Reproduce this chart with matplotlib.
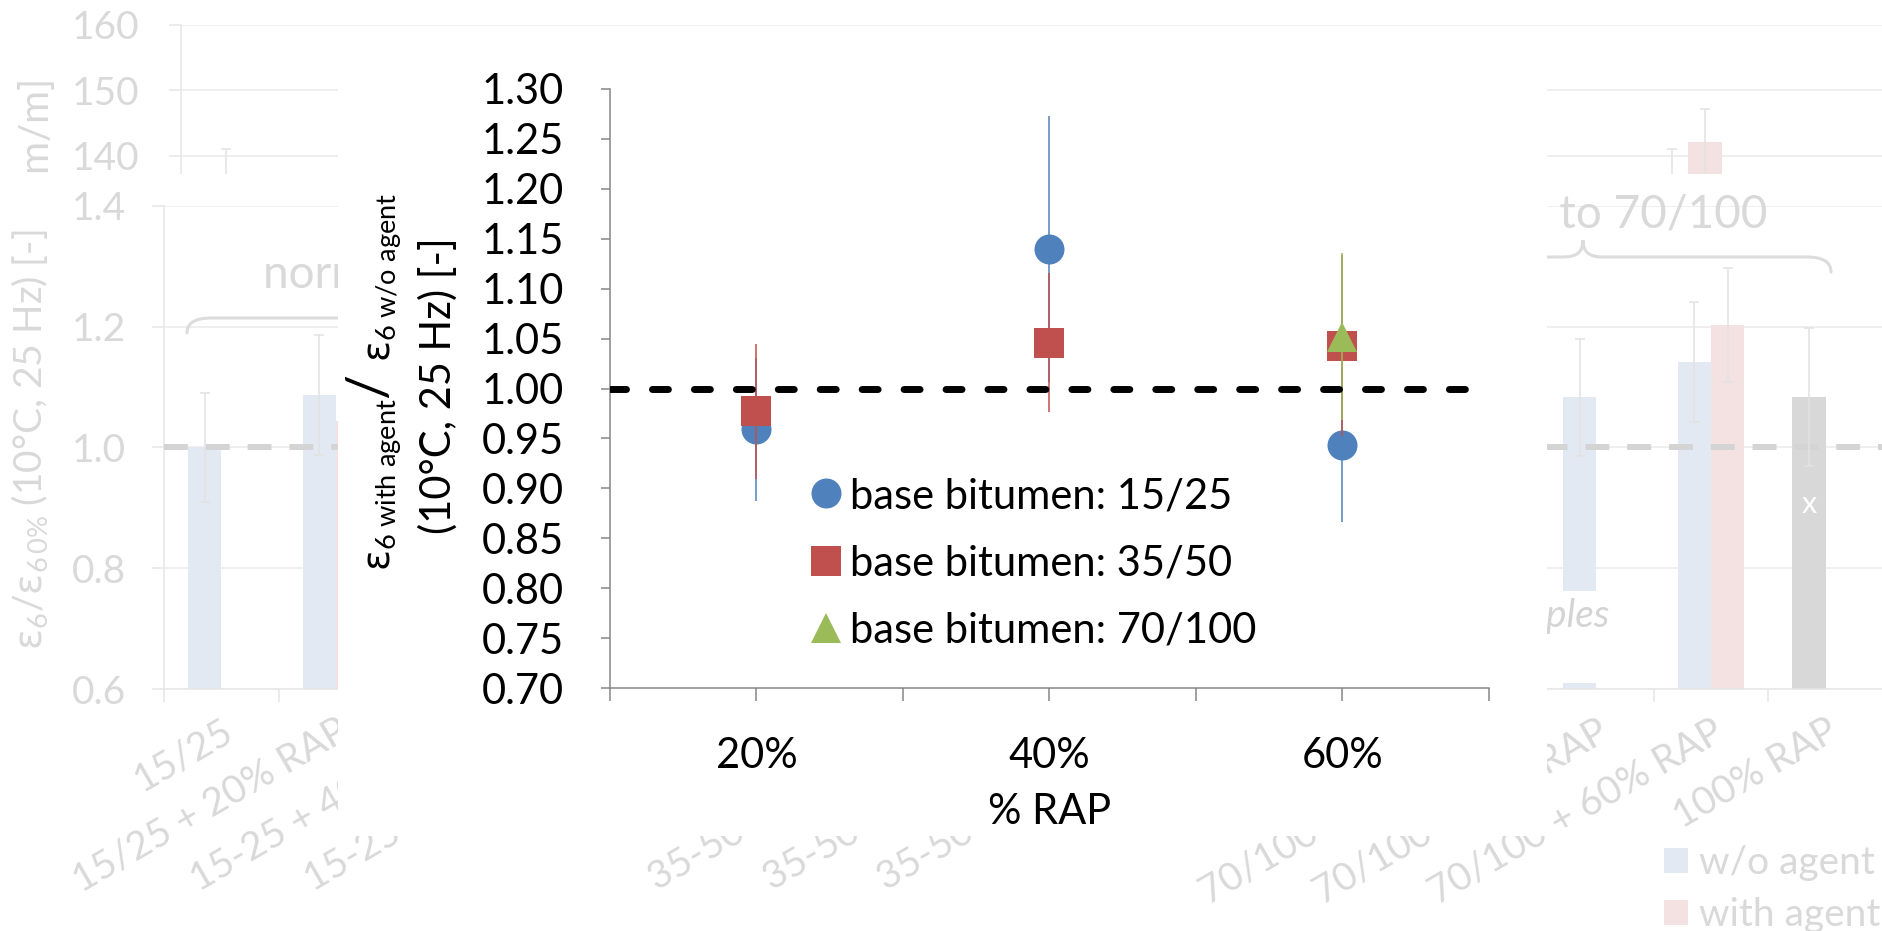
import numpy as np
import matplotlib
matplotlib.use("Agg")
import matplotlib.pyplot as plt
from matplotlib.lines import Line2D
from matplotlib.patches import Rectangle, PathPatch, Patch
from matplotlib.path import Path

# canvas size in pixels (dpi 100)
W, H = 1883, 931

plt.rcParams['font.family'] = ['Lato', 'DejaVu Sans']
plt.rcParams['mathtext.fontset'] = 'custom'
plt.rcParams['mathtext.rm'] = 'Lato'
plt.rcParams['mathtext.it'] = 'Lato:italic'
plt.rcParams['mathtext.sf'] = 'DejaVu Sans'

# ---------------------------------------------------------------------------
# inset: ratio with/without agent
# ---------------------------------------------------------------------------
rap_pct = [20, 40, 60]
ratio_1525 = [0.959, 1.140, 0.943]
err_1525 = [0.072, 0.133, 0.077]
ratio_3550 = [0.977, 1.046, 1.043]
err_3550 = [0.068, 0.070, 0.091]
rap_70100 = [60]
ratio_70100 = [1.052]
err_70100 = [0.084]
series_names = ["base bitumen: 15/25", "base bitumen: 35/50", "base bitumen: 70/100"]

# ---------------------------------------------------------------------------
# background chart (normalised strain, faded)
# ---------------------------------------------------------------------------
bg_labels = ["15/25", "15/25 + 20% RAP", "15-25 + 40% RAP", "15-25 + 60% RAP", "100% RAP",
             "35/50", "35-50 + 20% RAP", "35-50 + 40% RAP", "35-50 + 60% RAP", "100% RAP",
             "70/100", "70/100 + 20% RAP", "70/100 + 40% RAP", "70/100 + 60% RAP", "100% RAP"]
# index -> (value, error)
bg_wo = {0: (1.000, 0.090), 1: (1.087, 0.100), 12: (1.083, 0.097), 13: (1.142, 0.099)}
bg_with = {1: (1.044, 0.090), 13: (1.203, 0.094)}
bg_rap100 = {14: (1.084, 0.114)}
# upper part of the background chart, strain in µm/m
top_wo = {0: (134.0, 7.0), 13: (134.5, 6.5)}
top_with = {13: (142.1, 5.0)}

C_BLUE, C_RED, C_GREEN = '#4F81BD', '#C0504D', '#9BBB59'
BG_TXT = '#d9d9d9'
BG_GRID = '#eeeeee'
BG_BLUE, BG_PINK, BG_GRAY = '#e2e9f3', '#f4e2e2', '#d8d8d8'
BG_ERR = '#e2e2e2'


def fx(px):
    return px / W


def fy(py):
    return 1 - py / H


def box(x0, y0, x1, y1):
    return [fx(x0), fy(y1), (x1 - x0) / W, (y1 - y0) / H]


def brace(ax, xl, xr, xt, y, h_end, h_tip, r_end, r_tip, color):
    # curly brace in pixel coordinates, tip pointing up
    pts = [(xl, y + h_end), (xl, y), (xl + r_end, y),
           (xt - r_tip, y),
           (xt - 0.3 * r_tip, y), (xt, y - 0.3 * h_tip), (xt, y - h_tip),
           (xt, y - 0.3 * h_tip), (xt + 0.3 * r_tip, y), (xt + r_tip, y),
           (xr - r_end, y),
           (xr, y), (xr, y + h_end)]
    codes = [Path.MOVETO, Path.CURVE3, Path.CURVE3,
             Path.LINETO,
             Path.CURVE4, Path.CURVE4, Path.CURVE4,
             Path.CURVE4, Path.CURVE4, Path.CURVE4,
             Path.LINETO,
             Path.CURVE3, Path.CURVE3]
    verts = [(fx(a), fy(b)) for a, b in pts]
    ax.add_patch(PathPatch(Path(verts, codes), transform=ax.figure.transFigure,
                           fill=False, ec=color, lw=2.2, capstyle='round', zorder=2.5))


fig = plt.figure(figsize=(W / 100, H / 100), dpi=100)

# ---- upper background axes (µm/m) ----
ax_top = fig.add_axes(box(181, 25, 1883, 174), zorder=1)
ax_top.set_xlim(-0.558, 14.75)
ax_top.set_ylim(137.2, 160)
ax_top.set_yticks([140, 150, 160])
ax_top.set_xticks([])
for s in ['top', 'right', 'bottom']:
    ax_top.spines[s].set_visible(False)
ax_top.spines['left'].set_color('#e6e6e6')
ax_top.spines['left'].set_linewidth(1.1)
ax_top.tick_params(axis='y', length=8.6, width=1.1, color='#e6e6e6', labelcolor=BG_TXT,
                   labelsize=28, pad=21)
ax_top.grid(axis='y', color=BG_GRID, lw=1.3)
ax_top.set_axisbelow(True)
for d, dx, col in [(top_wo, -0.15, BG_BLUE), (top_with, 0.15, BG_PINK)]:
    idx = np.array(list(d.keys()))
    val = np.array([v[0] for v in d.values()])
    err = np.array([v[1] for v in d.values()])
    ax_top.bar(idx + dx, val, width=0.3, color=col, zorder=2)
    ax_top.errorbar(idx + dx, val, yerr=err, fmt='none', ecolor=BG_ERR, elinewidth=1.1,
                    capsize=3.6, capthick=1.1, zorder=3)
ax_top.text(fx(37), fy(80), r"$\mathsf{\varepsilon}_{\mathrm{6}}$ [µm/m]", transform=fig.transFigure,
            rotation=90, ha='center', va='top', color=BG_TXT, fontsize=29)

# white panel of the lower chart hides the rest of the upper one
fig.add_artist(Rectangle((0, 0), 1, fy(174), transform=fig.transFigure,
                         fc='white', ec='none', zorder=2))

# ---- lower background axes (normalised) ----
ax_bot = fig.add_axes(box(164, 206, 1883, 689), zorder=3)
ax_bot.set_xlim(-0.5, 14.5)
ax_bot.set_ylim(0.6, 1.4)
ax_bot.set_yticks([0.6, 0.8, 1.0, 1.2, 1.4])
ax_bot.set_yticklabels([f"{v:.1f}" for v in [0.6, 0.8, 1.0, 1.2, 1.4]])
ax_bot.set_xticks(np.arange(len(bg_labels)))
ax_bot.set_xticklabels(bg_labels)
ax_bot.set_xticks(np.arange(-0.5, 15, 1.0), minor=True)
for s in ['top', 'right']:
    ax_bot.spines[s].set_visible(False)
for s in ['left', 'bottom']:
    ax_bot.spines[s].set_color('#e6e6e6')
    ax_bot.spines[s].set_linewidth(1.1)
ax_bot.tick_params(axis='y', length=8.6, width=1.1, color='#e6e6e6', labelcolor=BG_TXT,
                   labelsize=28, pad=19)
ax_bot.tick_params(axis='x', which='major', length=0, labelcolor=BG_TXT, labelsize=28, pad=17)
ax_bot.tick_params(axis='x', which='minor', length=9.4, width=1.1, color='#e6e6e6')
for lab in ax_bot.get_xticklabels():
    lab.set_rotation(30)
    lab.set_ha('right')
    lab.set_rotation_mode('anchor')
ax_bot.grid(axis='y', color=BG_GRID, lw=1.3)
ax_bot.set_axisbelow(True)

for d, dx, col in [(bg_wo, -0.145, BG_BLUE), (bg_with, 0.145, BG_PINK), (bg_rap100, -0.145, BG_GRAY)]:
    idx = np.array(list(d.keys()))
    val = np.array([v[0] for v in d.values()])
    err = np.array([v[1] for v in d.values()])
    ax_bot.bar(idx + dx, val, width=0.29, color=col, zorder=2)
    ax_bot.errorbar(idx + dx, val, yerr=err, fmt='none', ecolor=BG_ERR, elinewidth=1.1,
                    capsize=3.6, capthick=1.1, zorder=3.5)
ax_bot.axhline(1.0, color='#d4d4d4', lw=4.3, ls=(0, (4.0, 3.0)), zorder=3)
ax_bot.text(14 - 0.145, 0.907, "x", color='white', fontsize=22, ha='center', va='center', zorder=4)

ax_bot.text(fx(30), fy(440), r"$\mathsf{\varepsilon}_{\mathrm{6}}/\mathsf{\varepsilon}_{\mathrm{6\,0\%}}$ (10°C, 25 Hz) [-]",
            transform=fig.transFigure, rotation=90, ha='center', va='center', color=BG_TXT, fontsize=28)

brace(ax_bot, 187, 713, 450, 318, 15, 17, 24, 20, '#dcdcdc')
brace(ax_bot, 1335, 1831, 1583, 257, 15, 17, 24, 20, '#dcdcdc')
ax_bot.text(fx(263), fy(287), "normalized to 15/25", transform=fig.transFigure,
            ha='left', va='baseline', color=BG_TXT, fontsize=33)
ax_bot.text(fx(1768), fy(227), "normalized to 70/100", transform=fig.transFigure,
            ha='right', va='baseline', color=BG_TXT, fontsize=33)

ax_bot.add_patch(Rectangle((fx(1380), fy(683)), fx(1610) - fx(1380), fy(591) - fy(683),
                           transform=fig.transFigure, fc='white', ec='none', zorder=4))
ax_bot.text(fx(1609), fy(627), "samples", transform=fig.transFigure, style='italic',
            ha='right', va='baseline', color='#d4d4d4', fontsize=28, zorder=5)

ax_bot.legend(handles=[Patch(fc=BG_BLUE), Patch(fc=BG_PINK)], labels=["w/o agent", "with agent"],
              loc='upper left', bbox_to_anchor=(fx(1664), fy(845)), bbox_transform=fig.transFigure,
              frameon=False, fontsize=28, labelcolor=BG_TXT, handlelength=0.62, handleheight=0.62,
              handletextpad=0.28, labelspacing=0.42, borderpad=0, borderaxespad=0)

# white panel behind the inset
fig.add_artist(Rectangle((fx(338), fy(836)), (1547 - 338) / W, (836 - 40) / H,
                         transform=fig.transFigure, fc='white', ec='none', zorder=4))

# ---- inset ----
ax = fig.add_axes(box(610, 89, 1489, 688), zorder=5)
ax.patch.set_alpha(0)
ax.set_xlim(10, 70)
ax.set_ylim(0.70, 1.30)
ax.set_yticks(np.round(np.arange(0.70, 1.301, 0.05), 2))
ax.set_yticklabels([f"{v:.2f}" for v in np.arange(0.70, 1.301, 0.05)])
ax.set_xticks([10, 20, 30, 40, 50, 60, 70])
ax.set_xticklabels(['', '20%', '', '40%', '', '60%', ''])
for s in ['top', 'right']:
    ax.spines[s].set_visible(False)
for s in ['left', 'bottom']:
    ax.spines[s].set_color('#868686')
    ax.spines[s].set_linewidth(1.1)
ax.tick_params(axis='y', length=6.5, width=1.1, color='#868686', labelsize=30, pad=27)
ax.tick_params(axis='x', length=9.4, width=1.1, color='#868686', labelsize=30, pad=26)
ax.set_xlabel("% RAP", fontsize=30, labelpad=13)

eb_style = dict(mew=0, elinewidth=1.1, capsize=3.8, capthick=1.3)
ax.errorbar(rap_pct, ratio_1525, yerr=err_1525, fmt='o', color=C_BLUE, ms=21.6, zorder=3, **eb_style)
ax.errorbar(rap_pct, ratio_3550, yerr=err_3550, fmt='s', color=C_RED, ms=21.6, zorder=4, **eb_style)
ax.errorbar(rap_70100, ratio_70100, yerr=err_70100, fmt='^', color=C_GREEN, ms=22, zorder=5, **eb_style)
ax.axhline(1.0, color='black', lw=5, ls=(0, (2.3, 3.74)), dash_capstyle='round', zorder=6)

handles = [Line2D([], [], ls='none', marker=m, color=c, ms=ms, mew=0)
           for m, c, ms in [('o', C_BLUE, 21.6), ('s', C_RED, 21.6), ('^', C_GREEN, 22)]]
ax.legend(handles, series_names, loc='upper left', bbox_to_anchor=(fx(811.5), fy(477)),
          bbox_transform=fig.transFigure, frameon=False, fontsize=30, handlelength=0.7,
          handletextpad=0.23, labelspacing=0.70, borderpad=0, borderaxespad=0, numpoints=1)

# two-line axis title of the inset
ax.text(fx(385), fy(571), r"$\mathsf{\varepsilon}_{\mathrm{6\ with\ agent}}$", transform=fig.transFigure,
        rotation=90, ha='center', va='bottom', fontsize=28)
ax.text(fx(370), fy(385), "/", transform=fig.transFigure, rotation=90, ha='center', va='center',
        fontsize=40)
ax.text(fx(385), fy(362), r"$\mathsf{\varepsilon}_{\mathrm{6\ w/o\ agent}}$", transform=fig.transFigure,
        rotation=90, ha='center', va='bottom', fontsize=28)
ax.text(fx(438), fy(386), "(10°C, 25 Hz) [-]", transform=fig.transFigure,
        rotation=90, ha='center', va='center', fontsize=30)

fig.savefig("out.png", dpi=100, facecolor='white')
